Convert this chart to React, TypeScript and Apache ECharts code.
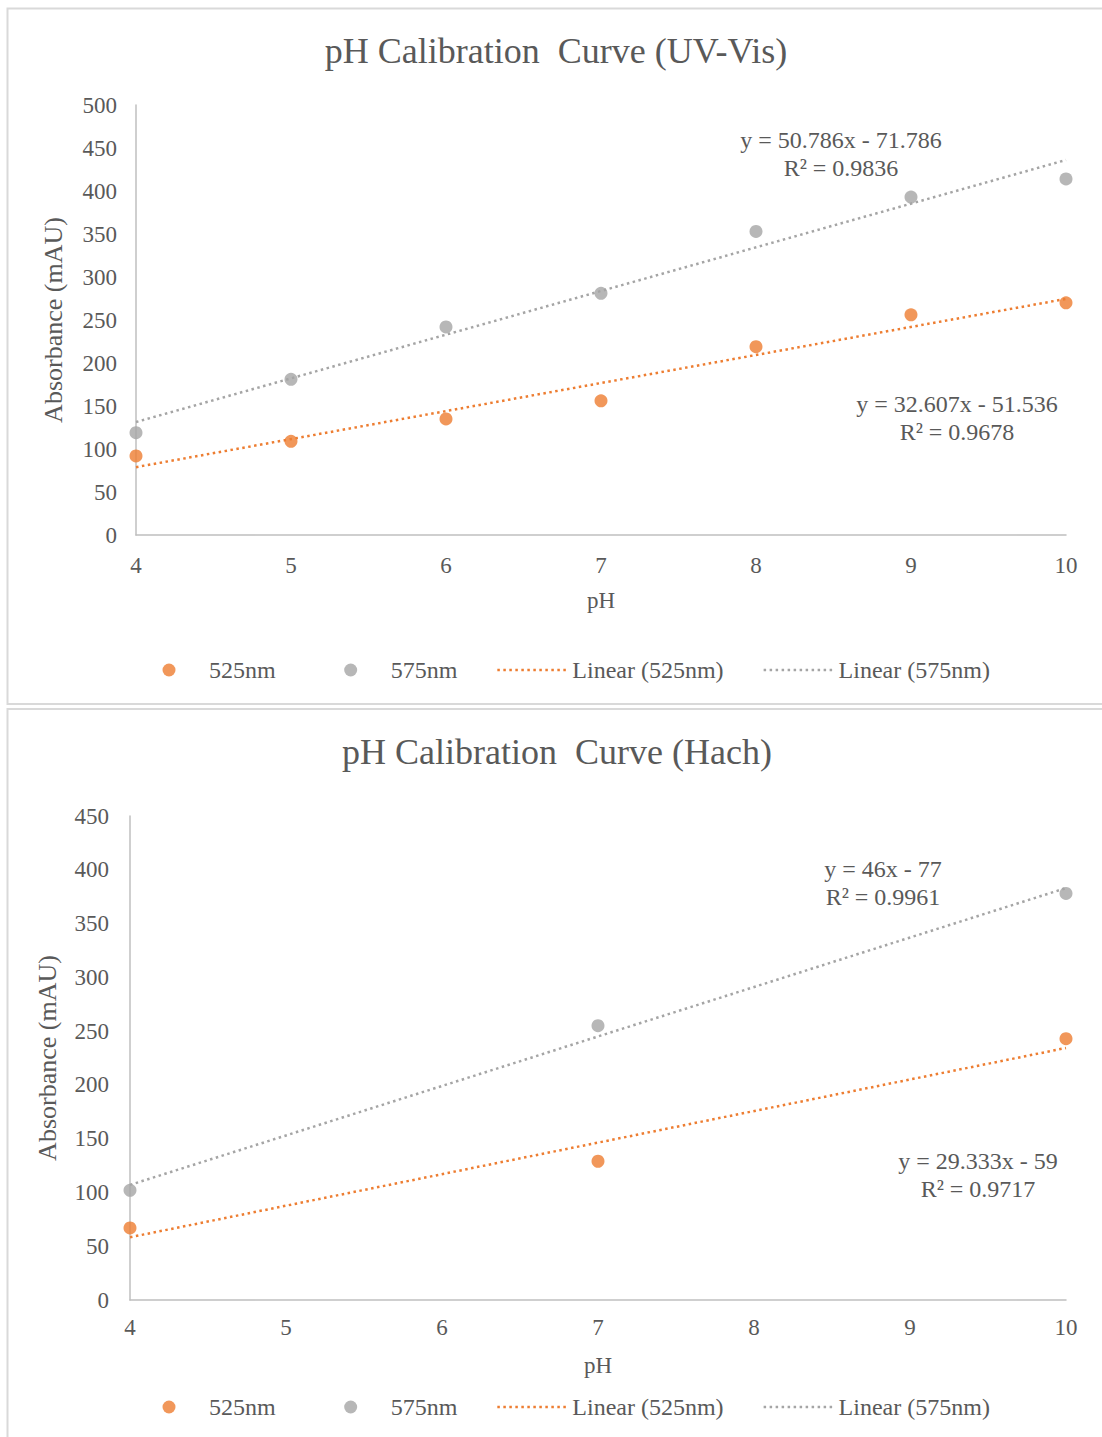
import React, { useEffect, useRef } from "react";
import * as echarts from "echarts";

// ---- Data ----
const uvPH = [4, 5, 6, 7, 8, 9, 10];
const uv525 = [92, 109, 135, 156, 219, 256, 270];
const uv575 = [119, 181, 242, 281, 353, 393, 414];

const hachPH = [4, 7, 10];
const hach525 = [67, 129, 243];
const hach575 = [102, 255, 378];

// trendline coefficients [slope, intercept]
const uvFit525 = [32.607, -51.536];
const uvFit575 = [50.786, -71.786];
const hachFit525 = [29.333, -59];
const hachFit575 = [46, -77];

const uvEq525 = ["y = 32.607x - 51.536", "R² = 0.9678"];
const uvEq575 = ["y = 50.786x - 71.786", "R² = 0.9836"];
const hachEq525 = ["y = 29.333x - 59", "R² = 0.9717"];
const hachEq575 = ["y = 46x - 77", "R² = 0.9961"];

const xRange = [4, 10];
const seriesNames = ["525nm", "575nm", "Linear (525nm)", "Linear (575nm)"];

const ORANGE = "#ED7D31";
const GRAY = "#A5A5A5";
const TEXT = "#595959";
const FONT = '"Liberation Serif", "Times New Roman", serif';

const pairs = (xs: number[], ys: number[]) => xs.map((x, i) => [x, ys[i]]);
const fitLine = (c: number[]) => xRange.map((x) => [x, c[0] * x + c[1]]);

// dotted-line legend icon (70 wide)
const dottedIcon = (() => {
  let d = "M0,-5.25 M70,7.75 ";
  for (let i = 0; i < 12; i++) {
    const x = i * 6;
    d += `M${x},0 L${x + 2.5},0 L${x + 2.5},2.5 L${x},2.5 Z `;
  }
  return "path://" + d.trim();
})();
// circle legend icon centred in a 70-wide box
const dotIcon =
  "path://M0,0 M70,13 M28.5,6.5 A6.5,6.5 0 1,1 41.5,6.5 A6.5,6.5 0 1,1 28.5,6.5 Z";

export default function App() {
  const ref = useRef<HTMLDivElement>(null);
  useEffect(() => {
    if (!ref.current) return;
    const chart = echarts.init(ref.current, undefined, { renderer: "svg" });

    const xAxisBase = (gridIndex: number, nameGap: number, margin: number) => ({
      type: "value",
      gridIndex,
      min: xRange[0],
      max: xRange[1],
      interval: 1,
      name: "pH",
      nameLocation: "middle",
      nameGap,
      nameTextStyle: { color: TEXT, fontSize: 23, fontFamily: FONT },
      axisLine: { show: true, lineStyle: { color: "#bfbfbf", width: 1.5 } },
      axisTick: { show: false },
      splitLine: { show: false },
      axisLabel: { color: TEXT, fontSize: 23, fontFamily: FONT, margin },
    });
    const yAxisBase = (gridIndex: number, max: number, nameGap: number, margin: number) => ({
      type: "value",
      gridIndex,
      min: 0,
      max,
      interval: 50,
      name: "Absorbance (mAU)",
      nameLocation: "middle",
      nameGap,
      nameTextStyle: { color: TEXT, fontSize: 26, fontFamily: FONT },
      axisLine: { show: true, lineStyle: { color: "#bfbfbf", width: 1.5 } },
      axisTick: { show: false },
      splitLine: { show: false },
      axisLabel: { color: TEXT, fontSize: 23, fontFamily: FONT, margin },
    });

    const scatter = (name: string, data: number[][], color: string, idx: number) => ({
      name,
      type: "scatter",
      xAxisIndex: idx,
      yAxisIndex: idx,
      data,
      symbol: "circle",
      symbolSize: 13,
      itemStyle: { color },
      z: 3,
    });
    const trend = (name: string, data: number[][], color: string, idx: number) => ({
      name,
      type: "line",
      xAxisIndex: idx,
      yAxisIndex: idx,
      data,
      symbol: "none",
      showSymbol: false,
      itemStyle: { color },
      lineStyle: { color, width: 2.5, type: [2.5, 3.5] },
      z: 2,
    });

    const legend = (top: number) => ({
      data: [
        { name: seriesNames[0], icon: dotIcon },
        { name: seriesNames[1], icon: dotIcon },
        { name: seriesNames[2], icon: dottedIcon },
        { name: seriesNames[3], icon: dottedIcon },
      ],
      left: 129,
      top,
      itemWidth: 70,
      itemHeight: 13,
      itemGap: 40,
      symbolKeepAspect: true,
      textStyle: { color: TEXT, fontSize: 24, fontFamily: FONT },
    });

    const eq = (lines: string[], x: number, y: number) => ({
      type: "text",
      x,
      y,
      style: {
        text: lines.join("\n"),
        align: "center",
        verticalAlign: "middle",
        fill: TEXT,
        font: `24px ${FONT}`,
        lineHeight: 28,
      },
    });

    chart.setOption({
      animation: false,
      backgroundColor: "#ffffff",
      title: [
        {
          text: "pH Calibration  Curve (UV-Vis)",
          left: 556,
          textAlign: "center",
          top: 33,
          padding: 0,
          textStyle: { color: TEXT, fontSize: 36, fontWeight: "normal", fontFamily: FONT },
        },
        {
          text: "pH Calibration  Curve (Hach)",
          left: 557,
          textAlign: "center",
          top: 734,
          padding: 0,
          textStyle: { color: TEXT, fontSize: 36, fontWeight: "normal", fontFamily: FONT },
        },
      ],
      grid: [
        { left: 136, top: 105, width: 930, height: 430, containLabel: false },
        { left: 130, top: 816, width: 936, height: 484, containLabel: false },
      ],
      xAxis: [xAxisBase(0, 54, 19), xAxisBase(1, 54, 16)],
      yAxis: [yAxisBase(0, 500, 70, 19), yAxisBase(1, 450, 70, 21)],
      legend: [legend(653), legend(1390)],
      series: [
        scatter(seriesNames[0], pairs(uvPH, uv525), ORANGE, 0),
        scatter(seriesNames[1], pairs(uvPH, uv575), GRAY, 0),
        trend(seriesNames[2], fitLine(uvFit525), ORANGE, 0),
        trend(seriesNames[3], fitLine(uvFit575), GRAY, 0),
        scatter(seriesNames[0], pairs(hachPH, hach525), ORANGE, 1),
        scatter(seriesNames[1], pairs(hachPH, hach575), GRAY, 1),
        trend(seriesNames[2], fitLine(hachFit525), ORANGE, 1),
        trend(seriesNames[3], fitLine(hachFit575), GRAY, 1),
      ],
      graphic: [
        {
          type: "rect",
          shape: { x: 7.5, y: 8.5, width: 1120, height: 695.5 },
          style: { fill: "none", stroke: "#d9d9d9", lineWidth: 2 },
          silent: true,
        },
        {
          type: "rect",
          shape: { x: 7.5, y: 709, width: 1120, height: 760 },
          style: { fill: "none", stroke: "#d9d9d9", lineWidth: 2 },
          silent: true,
        },
        eq(uvEq575, 841, 154),
        eq(uvEq525, 957, 418),
        eq(hachEq575, 883, 883),
        eq(hachEq525, 978, 1175),
      ],
    });
    return () => chart.dispose();
  }, []);

  return (
    <div
      ref={ref}
      style={{ position: "absolute", left: 0, top: 0, width: 1102, height: 1437 }}
    />
  );
}
